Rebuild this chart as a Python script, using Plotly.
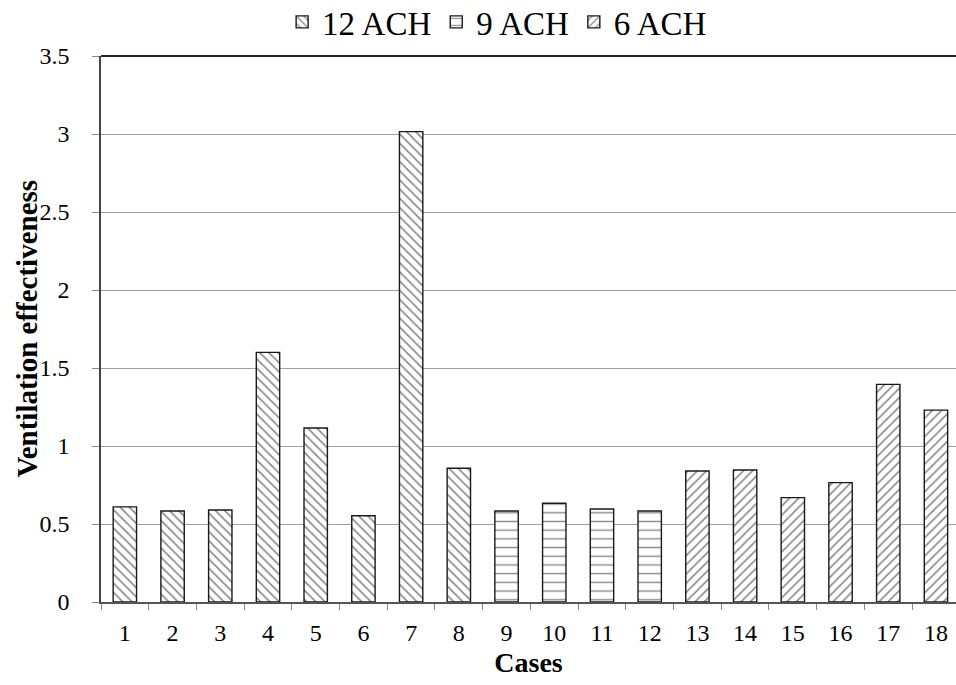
import plotly.graph_objects as go

cases = [str(i) for i in range(1, 19)]
ach12_cases = cases[0:8]
ach12_values = [0.61, 0.583, 0.59, 1.60, 1.115, 0.553, 3.015, 0.857]
ach9_cases = cases[8:12]
ach9_values = [0.583, 0.633, 0.596, 0.583]
ach6_cases = cases[12:18]
ach6_values = [0.84, 0.846, 0.669, 0.765, 1.395, 1.23]
y_ticks = [0, 0.5, 1, 1.5, 2, 2.5, 3, 3.5]
y_tick_text = ["0", "0.5", "1", "1.5", "2", "2.5", "3", "3.5"]

FONT = "Liberation Serif, Times New Roman, serif"

def bar(name, xs, ys, shape, size, solidity):
    return go.Bar(
        name=name, x=xs, y=ys, width=0.49,
        marker=dict(
            color="white",
            line=dict(color="#1a1a1a", width=1.4),
            pattern=dict(shape=shape, fgcolor="#111111", bgcolor="white",
                         size=size, solidity=solidity, fillmode="overlay"),
        ),
    )

fig = go.Figure()
fig.add_trace(bar("12 ACH", ach12_cases, ach12_values, "\\", 6.5, 0.25))
fig.add_trace(bar("9 ACH", ach9_cases, ach9_values, "-", 8.7, 0.16))
fig.add_trace(bar("6 ACH", ach6_cases, ach6_values, "/", 6.5, 0.25))

fig.update_layout(
    width=956, height=685,
    paper_bgcolor="white", plot_bgcolor="white",
    margin=dict(l=101, r=0, t=56, b=83),
    font=dict(family=FONT, color="black", size=24),
    barmode="overlay",
    showlegend=True,
    legend=dict(orientation="h", xref="container", yref="container",
                x=0.52, xanchor="center", y=0.968, yanchor="middle",
                font=dict(size=33, family=FONT), itemwidth=30,
                traceorder="normal", bgcolor="rgba(0,0,0,0)"),
)
fig.update_xaxes(
    type="category", categoryorder="array", categoryarray=cases,
    range=[-0.5, 17.42], automargin=False,
    tickson="boundaries", ticks="outside", ticklen=6, tickcolor="#888888",
    showline=True, linecolor="#555555", linewidth=1.5,
    showgrid=False,
    tickfont=dict(size=24, family=FONT), ticklabelstandoff=8,
    title=dict(text="<b>Cases</b>", font=dict(size=28, family=FONT), standoff=8),
)
fig.update_yaxes(
    range=[0, 3.5], tickvals=y_ticks, ticktext=y_tick_text, automargin=False,
    ticks="outside", ticklen=7, tickcolor="#888888",
    showline=True, linecolor="#444444", linewidth=1.5,
    showgrid=True, gridcolor="#a0a0a0", gridwidth=1,
    zeroline=False,
    tickfont=dict(size=24, family=FONT), ticklabelstandoff=18,
)
fig.add_annotation(
    text="<b>Ventilation effectiveness</b>", textangle=-90,
    xref="paper", yref="paper", x=-0.087, y=0.5,
    xanchor="center", yanchor="middle", showarrow=False,
    font=dict(size=29, family=FONT, color="black"),
)
fig.add_shape(type="line", xref="paper", yref="paper", x0=0, x1=1, y0=1, y1=1,
              line=dict(color="#222222", width=2))

fig.write_html(
    "out.html",
    config={"displayModeBar": False},
    post_script="document.body.style.margin='0';document.body.style.overflow='hidden';",
)
